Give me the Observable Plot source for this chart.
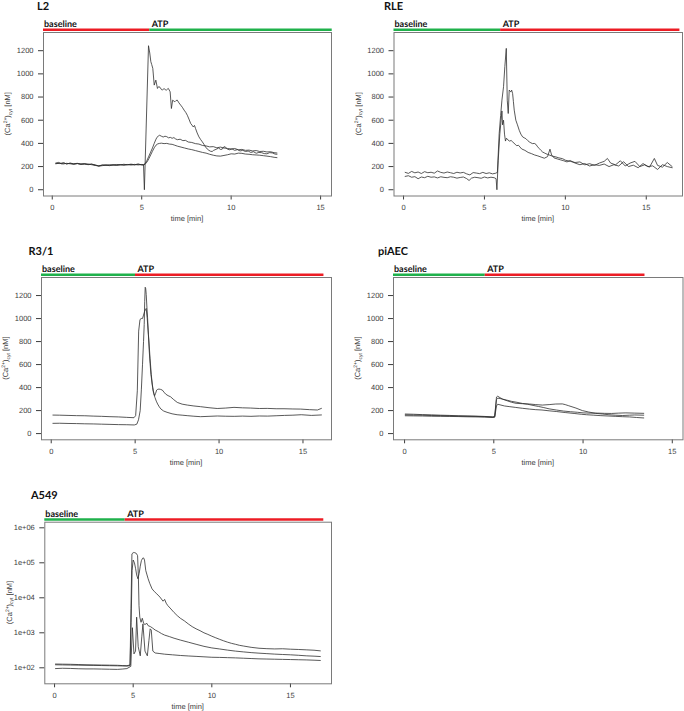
<!DOCTYPE html>
<html><head><meta charset="utf-8">
<script src="https://cdn.jsdelivr.net/npm/d3@7"></script>
<script src="https://cdn.jsdelivr.net/npm/@observablehq/plot@0.6"></script>
<style>
body{margin:0;background:#fff;}
#fig{position:relative;width:684px;height:711px;overflow:hidden;background:#fff;}
#fig svg text{text-rendering:geometricPrecision;}
</style></head><body><div id="fig"></div>
<script>
// ---------- tick values / labels ----------
const xTicks = [0, 5, 10, 15];
const linearYTicks = [0, 200, 400, 600, 800, 1000, 1200];
const logYTicks = [1e2, 1e3, 1e4, 1e5, 1e6];
const logYTickLabels = ["1e+02", "1e+03", "1e+04", "1e+05", "1e+06"];
const phaseLabels = ["baseline", "ATP"];
const panelTitles = ["L2", "RLE", "R3/1", "piAEC", "A549"];
const xAxisTitle = "time [min]";

// phase boundaries [switch time, end of ATP bar] in minutes
const l2Phase = [5.45, 15.65];
const rlePhase = [6.0, 17.08];
const r31Phase = [5.02, 16.25];
const piaecPhase = [4.52, 13.47];
const a549Phase = [4.49, 17.12];

// ---------- traces: [time (min), Ca2+ (nM)] ----------
const l2TraceA = [[0.2,228],[0.35,236],[0.5,224],[0.65,232],[0.8,222],[1.0,230],[1.2,224],[1.4,228],[1.6,220],[1.8,226],[2.0,218],[2.2,222],[2.4,212],[2.6,206],[2.8,214],[3.0,210],[3.2,216],[3.4,212],[3.6,218],[3.8,214],[4.0,220],[4.2,215],[4.4,221],[4.6,216],[4.8,222],[5.0,214],[5.1,218],[5.15,0],[5.38,1243],[5.45,1180],[5.51,1105],[5.56,1080],[5.62,1047],[5.70,903],[5.79,946],[5.88,874],[5.95,890],[6.03,883],[6.1,865],[6.16,860],[6.25,874],[6.32,862],[6.38,860],[6.45,870],[6.49,874],[6.59,845],[6.66,701],[6.73,773],[6.8,765],[6.85,759],[6.92,770],[6.99,773],[7.08,750],[7.18,730],[7.27,712],[7.37,687],[7.46,668],[7.55,643],[7.64,610],[7.74,571],[7.81,558],[7.88,542],[7.95,555],[8.01,528],[8.1,490],[8.20,456],[8.3,432],[8.39,413],[8.48,392],[8.57,369],[8.66,352],[8.76,340],[8.85,332],[8.94,330],[9.02,340],[9.1,345],[9.2,352],[9.3,360],[9.4,348],[9.5,350],[9.6,372],[9.7,365],[9.8,350],[9.9,345],[10.05,352],[10.2,340],[10.35,346],[10.5,335],[10.65,340],[10.8,330],[10.95,334],[11.1,322],[11.25,328],[11.4,315],[11.55,322],[11.7,320],[11.85,312],[12.0,310],[12.15,320],[12.3,318],[12.45,308],[12.56,306]];
const l2TraceB = [[0.2,224],[0.4,230],[0.6,222],[0.8,228],[1.0,224],[1.2,220],[1.4,226],[1.6,218],[1.8,224],[2.0,216],[2.2,220],[2.4,214],[2.6,205],[2.8,212],[3.0,215],[3.2,210],[3.4,216],[3.6,212],[3.8,217],[4.0,212],[4.2,218],[4.4,213],[4.6,219],[4.8,214],[5.0,218],[5.1,215],[5.2,228],[5.3,255],[5.4,290],[5.5,325],[5.6,360],[5.7,400],[5.78,430],[5.85,452],[5.92,462],[6.0,470],[6.1,462],[6.2,455],[6.3,462],[6.4,458],[6.5,448],[6.6,452],[6.7,444],[6.8,450],[6.9,438],[7.0,432],[7.15,436],[7.3,424],[7.45,426],[7.6,412],[7.8,408],[8.0,398],[8.2,394],[8.4,382],[8.6,378],[8.8,370],[9.0,372],[9.2,362],[9.4,368],[9.6,360],[9.8,356],[10.0,352],[10.2,356],[10.4,345],[10.6,348],[10.8,340],[11.0,342],[11.2,335],[11.4,338],[11.6,330],[11.8,332],[12.0,326],[12.2,328],[12.4,320],[12.56,317]];
const l2TraceC = [[0.2,230],[0.4,226],[0.6,232],[0.8,224],[1.0,228],[1.2,222],[1.4,226],[1.6,224],[1.8,220],[2.0,222],[2.2,216],[2.4,210],[2.6,204],[2.8,208],[3.0,212],[3.2,208],[3.4,214],[3.6,210],[3.8,216],[4.0,214],[4.2,216],[4.4,218],[4.6,214],[4.8,220],[5.0,216],[5.1,212],[5.2,222],[5.3,240],[5.4,268],[5.5,300],[5.6,332],[5.7,362],[5.8,385],[5.9,396],[6.0,400],[6.1,402],[6.25,398],[6.4,400],[6.55,394],[6.7,392],[6.85,384],[7.0,376],[7.2,368],[7.4,360],[7.6,352],[7.8,346],[8.0,338],[8.2,330],[8.4,322],[8.6,316],[8.8,306],[9.0,298],[9.2,292],[9.4,290],[9.6,296],[9.8,302],[10.0,310],[10.2,308],[10.4,316],[10.6,314],[10.8,308],[11.0,306],[11.2,302],[11.4,300],[11.6,298],[11.8,294],[12.0,290],[12.2,286],[12.4,280],[12.56,277]];

const rleTraceA = [[0.1,150],[0.3,141],[0.5,158],[0.7,146],[0.9,153],[1.1,140],[1.3,156],[1.5,147],[1.7,151],[1.9,143],[2.1,162],[2.3,150],[2.5,144],[2.7,153],[2.9,147],[3.1,140],[3.3,151],[3.5,145],[3.7,150],[3.9,137],[4.1,128],[4.3,148],[4.5,144],[4.7,139],[4.9,150],[5.1,140],[5.3,146],[5.5,137],[5.7,143],[5.8,150],[5.91,485],[6.0,640],[6.08,773],[6.18,889],[6.26,1062],[6.35,1220],[6.41,773],[6.47,658],[6.53,860],[6.58,850],[6.63,845],[6.68,860],[6.74,831],[6.79,760],[6.84,687],[6.94,600],[7.04,560],[7.15,513],[7.25,480],[7.36,456],[7.46,448],[7.56,441],[7.67,425],[7.77,413],[7.87,405],[7.97,398],[8.08,400],[8.18,392],[8.29,370],[8.39,355],[8.49,340],[8.59,326],[8.7,318],[8.8,311],[8.9,305],[9.0,300],[9.2,290],[9.42,283],[9.6,275],[9.83,268],[10.0,255],[10.3,245],[10.6,235],[10.9,240],[11.2,215],[11.5,225],[11.8,210],[12.1,230],[12.4,245],[12.6,270],[12.8,230],[13.1,215],[13.4,250],[13.7,205],[14.0,230],[14.3,245],[14.6,200],[14.9,215],[15.2,195],[15.5,270],[15.7,210],[16.0,195],[16.3,235],[16.6,200]];
const rleTraceB = [[0.1,115],[0.3,121],[0.5,108],[0.7,113],[0.9,95],[1.1,110],[1.3,104],[1.5,116],[1.7,108],[1.9,111],[2.1,102],[2.3,112],[2.5,107],[2.7,104],[2.9,112],[3.1,108],[3.3,100],[3.5,106],[3.7,110],[3.9,96],[4.05,80],[4.2,100],[4.4,108],[4.6,104],[4.8,99],[5.0,110],[5.2,102],[5.4,108],[5.6,104],[5.72,95],[5.77,0],[5.85,250],[5.95,480],[6.03,600],[6.08,680],[6.12,560],[6.18,600],[6.24,480],[6.3,420],[6.36,445],[6.45,430],[6.55,420],[6.65,425],[6.75,412],[6.9,392],[7.0,380],[7.1,384],[7.3,352],[7.5,340],[7.7,322],[7.9,312],[8.1,300],[8.3,292],[8.5,282],[8.7,272],[8.9,286],[9.05,350],[9.15,300],[9.3,275],[9.5,266],[9.7,258],[9.9,250],[10.1,240],[10.3,252],[10.6,230],[10.9,216],[11.2,226],[11.5,205],[11.8,216],[12.1,210],[12.4,222],[12.7,200],[13.0,216],[13.3,205],[13.6,242],[13.9,200],[14.2,212],[14.5,190],[14.8,226],[15.1,200],[15.4,206],[15.7,175],[16.0,216],[16.3,200],[16.6,190]];

const r31TraceA = [[0.1,161],[0.5,160],[1.0,158],[1.5,156],[2.0,155],[2.5,152],[3.0,150],[3.5,147],[4.0,145],[4.5,141],[4.93,138],[5.03,156],[5.13,372],[5.21,891],[5.29,992],[5.36,1000],[5.44,1001],[5.5,1030],[5.56,1060],[5.62,1080],[5.66,1088],[5.72,1000],[5.77,900],[5.82,805],[5.89,650],[5.96,516],[6.02,430],[6.08,372],[6.16,329],[6.22,350],[6.28,378],[6.35,385],[6.42,387],[6.52,384],[6.62,378],[6.72,360],[6.82,343],[6.96,330],[7.11,320],[7.3,295],[7.51,271],[7.8,256],[8.11,248],[8.5,240],[8.9,234],[9.4,225],[9.89,218],[10.4,222],[10.89,228],[11.4,224],[11.88,222],[12.4,218],[12.87,219],[13.4,216],[13.87,216],[14.4,214],[14.86,213],[15.4,208],[15.86,205],[16.1,219]];
const r31TraceB = [[0.1,89],[0.5,90],[1.0,88],[1.5,87],[2.0,85],[2.5,84],[3.0,82],[3.5,80],[4.0,78],[4.5,77],[4.95,75],[5.1,82],[5.2,120],[5.3,199],[5.37,380],[5.44,603],[5.5,800],[5.54,949],[5.57,1150],[5.6,1272],[5.63,1260],[5.66,1209],[5.7,1100],[5.74,1007],[5.79,860],[5.84,718],[5.89,610],[5.94,516],[6.04,401],[6.1,350],[6.18,314],[6.26,282],[6.34,257],[6.44,232],[6.54,213],[6.7,196],[6.9,185],[7.2,172],[7.5,164],[7.8,160],[8.1,156],[8.5,151],[8.9,147],[9.4,150],[9.9,153],[10.4,151],[10.9,150],[11.4,152],[11.9,150],[12.4,153],[12.9,152],[13.4,155],[13.9,158],[14.4,160],[14.9,164],[15.5,158],[16.1,162]];

const piaecTraceA = [[0.04,170],[0.5,168],[1.0,165],[1.5,163],[2.0,160],[2.5,158],[3.0,155],[3.5,154],[4.0,152],[4.5,149],[4.95,145],[5.05,150],[5.15,318],[5.22,325],[5.35,312],[5.5,300],[5.75,285],[6.0,272],[6.25,263],[6.6,260],[7.0,257],[7.35,252],[7.72,248],[8.1,252],[8.47,257],[8.84,258],[9.0,252],[9.2,242],[9.6,222],[9.96,200],[10.3,188],[10.7,176],[11.1,170],[11.45,164],[11.8,160],[12.2,157],[12.6,160],[12.9,162],[13.4,160]];
const piaecTraceB = [[0.04,163],[0.5,161],[1.0,160],[1.5,157],[2.0,156],[2.5,154],[3.0,152],[3.5,150],[4.0,149],[4.5,147],[4.95,143],[5.05,146],[5.15,295],[5.22,308],[5.35,305],[5.5,298],[5.75,290],[6.0,280],[6.3,272],[6.6,262],[6.9,255],[7.2,245],[7.5,236],[7.8,226],[8.1,215],[8.5,205],[8.9,196],[9.3,190],[9.7,185],[10.0,180],[10.4,178],[10.8,178],[11.2,176],[11.6,175],[12.0,178],[12.4,180],[12.9,178],[13.4,176]];
const piaecTraceC = [[0.04,155],[0.5,154],[1.0,153],[1.5,151],[2.0,150],[2.5,149],[3.0,148],[3.5,146],[4.0,145],[4.5,143],[4.95,140],[5.05,142],[5.15,240],[5.22,255],[5.4,248],[5.6,240],[5.9,234],[6.2,228],[6.6,220],[7.0,213],[7.35,208],[7.7,205],[8.1,198],[8.5,192],[9.0,183],[9.5,175],[9.9,168],[10.2,164],[10.6,160],[11.0,156],[11.4,153],[11.8,150],[12.2,147],[12.6,145],[13.0,140],[13.4,136]];

const a549TraceA = [[0.06,128],[0.5,127],[1.0,126],[1.5,124],[2.0,122],[2.5,121],[3.0,120],[3.5,119],[4.0,118],[4.3,116],[4.6,115],[4.8,120],[4.87,2000],[4.93,60000],[5.0,120000],[5.08,100000],[5.15,70000],[5.22,45000],[5.3,35000],[5.38,50000],[5.45,80000],[5.52,115000],[5.6,135000],[5.66,138000],[5.72,120000],[5.8,60000],[5.88,45000],[5.95,35000],[6.05,26000],[6.2,18000],[6.35,15000],[6.5,13000],[6.7,10500],[6.9,8000],[7.0,9000],[7.1,7000],[7.2,6000],[7.4,4800],[7.6,3800],[7.8,3100],[8.0,2600],[8.25,2200],[8.5,1800],[8.75,1500],[9.0,1300],[9.25,1150],[9.5,1000],[9.75,900],[10.0,800],[10.25,720],[10.5,650],[10.75,590],[11.0,540],[11.25,500],[11.5,470],[11.75,440],[12.0,420],[12.5,385],[13.0,362],[13.5,352],[14.0,346],[14.5,350],[15.0,340],[15.5,334],[16.0,326],[16.5,318],[16.9,305]];
const a549TraceB = [[0.06,122],[0.5,121],[1.0,120],[1.5,119],[2.0,118],[2.5,117],[3.0,116],[3.5,115],[4.0,114],[4.3,113],[4.6,112],[4.8,115],[4.86,5000],[4.92,180000],[5.0,195000],[5.1,195000],[5.2,185000],[5.28,160000],[5.33,40000],[5.37,6000],[5.42,2800],[5.5,2000],[5.58,2600],[5.66,1900],[5.75,1700],[5.85,1900],[5.95,1600],[6.1,1500],[6.25,1350],[6.4,1200],[6.6,1080],[6.8,950],[7.0,860],[7.3,780],[7.6,700],[8.0,620],[8.5,540],[9.0,470],[9.5,410],[10.0,370],[10.5,345],[11.0,320],[11.5,300],[12.0,285],[12.5,272],[13.0,262],[13.5,254],[14.0,246],[14.5,240],[15.0,235],[15.5,228],[16.0,220],[16.5,215],[16.9,210]];
const a549TraceC = [[0.06,95],[0.5,97],[1.0,96],[1.5,94],[2.0,93],[2.5,93],[3.0,92],[3.5,91],[4.0,90],[4.3,92],[4.6,95],[4.85,110],[4.95,1400],[5.05,250],[5.15,300],[5.22,2800],[5.32,400],[5.45,220],[5.55,800],[5.62,1800],[5.75,300],[5.9,220],[6.0,600],[6.08,1300],[6.15,1200],[6.25,300],[6.4,265],[6.7,255],[7.0,245],[7.5,235],[8.0,225],[8.5,218],[9.0,212],[9.5,206],[10.0,200],[10.5,198],[11.0,195],[11.5,192],[12.0,188],[12.5,184],[13.0,180],[13.5,178],[14.0,176],[14.5,174],[15.0,172],[15.5,170],[16.0,168],[16.5,165],[16.9,162]];

// ---------- layout / style options ----------
const RED = "#ec1c24", GREEN = "#1fb14b";
const TEXT = "#3c3c3c";
const linearYDomain = [-54, 1357];
const logYDomain = [Math.pow(10, 1.543), Math.pow(10, 6.16)];

const panels = [
  {title: panelTitles[0], traces: [l2TraceA, l2TraceB, l2TraceC], phase: l2Phase, colors: [RED, GREEN],
   left: 0, top: 0, w: 342, h: 225, mL: 43, mR: 11, mT: 32, mB: 29.5, xDomain: [-0.49, 15.61], log: false},
  {title: panelTitles[1], traces: [rleTraceA, rleTraceB], phase: rlePhase, colors: [GREEN, RED],
   left: 342, top: 0, w: 342, h: 225, mL: 51.5, mR: 2, mT: 32, mB: 29.5, xDomain: [-0.59, 17.24], log: false},
  {title: panelTitles[2], traces: [r31TraceA, r31TraceB], phase: r31Phase, colors: [GREEN, RED],
   left: 0, top: 245, w: 342, h: 225, mL: 41, mR: 11, mT: 32, mB: 30.7, xDomain: [-0.58, 16.70], log: false},
  {title: panelTitles[3], traces: [piaecTraceA, piaecTraceB, piaecTraceC], phase: piaecPhase, colors: [GREEN, RED],
   left: 342, top: 245, w: 342, h: 225, mL: 51, mR: 1.5, mT: 32, mB: 30.7, xDomain: [-0.62, 15.60], log: false},
  {title: panelTitles[4], traces: [a549TraceA, a549TraceB, a549TraceC], phase: a549Phase, colors: [GREEN, RED],
   left: 0, top: 488, w: 342, h: 223, mL: 44.3, mR: 11, mT: 33.7, mB: 27.7, xDomain: [-0.62, 17.61], log: true}
];

const fig = document.getElementById("fig");

for (const p of panels) {
  const rows = p.traces.flatMap((tr, i) => tr.map(([t, v]) => ({t, v, trace: i})));
  const yDomain = p.log ? logYDomain : linearYDomain;
  const yTop = yDomain[1];
  const xMin = p.xDomain[0];
  const [sw, end] = p.phase;
  const bar1 = [{a: xMin, b: sw, y: yTop}];
  const bar2 = [{a: sw, b: end, y: yTop}];
  const lab1 = [{x: xMin, y: yTop, text: phaseLabels[0]}];
  const lab2 = [{x: sw, y: yTop, text: phaseLabels[1]}];
  const yOpts = p.log
    ? {type: "log", domain: yDomain, ticks: logYTicks, tickFormat: d => logYTickLabels[logYTicks.indexOf(d)], tickSize: 5, tickPadding: 5, label: null}
    : {type: "linear", domain: yDomain, ticks: linearYTicks, tickFormat: d => `${d}`, tickSize: 5, tickPadding: 5, label: null};
  const labelFont = "Lato, 'Open Sans', sans-serif";
  const chart = Plot.plot({
    width: p.w, height: p.h,
    marginLeft: p.mL, marginRight: p.mR, marginTop: p.mT, marginBottom: p.mB,
    style: {fontFamily: "'Liberation Sans', Arial, sans-serif", fontSize: "7.5px", color: TEXT, background: "transparent", overflow: "visible"},
    x: {domain: p.xDomain, ticks: xTicks, tickFormat: d => `${d}`, tickSize: 4, tickPadding: 5, label: null},
    y: yOpts,
    marks: [
      Plot.frame({stroke: "#7a7a7a", strokeWidth: 1}),
      Plot.line(rows, {x: "t", y: "v", z: "trace", stroke: "#2e2e2e", strokeWidth: 0.8}),
      Plot.ruleY(bar1, {x1: "a", x2: "b", y: "y", stroke: p.colors[0], strokeWidth: 2.5, dy: -2.8}),
      Plot.ruleY(bar2, {x1: "a", x2: "b", y: "y", stroke: p.colors[1], strokeWidth: 2.5, dy: -2.8}),
      Plot.text(lab1, {x: "x", y: "y", text: "text", textAnchor: "start", dx: 0.5, dy: -8, fontWeight: "bold", fontSize: 9, fontFamily: labelFont, fill: "#111"}),
      Plot.text(lab2, {x: "x", y: "y", text: "text", textAnchor: "start", dx: 2, dy: -8, fontWeight: "bold", fontSize: 9, fontFamily: labelFont, fill: "#111"})
    ]
  });
  chart.style.position = "absolute";
  chart.style.left = p.left + "px";
  chart.style.top = p.top + "px";
  chart.style.maxWidth = "none";
  fig.appendChild(chart);

  const svg = d3.select(chart);
  // panel title
  svg.append("text")
    .attr("x", p.mL).attr("y", p.mT - 22.5)
    .attr("font-family", labelFont).attr("font-weight", "bold").attr("font-size", "11px")
    .attr("fill", "#111").text(p.title);
  // x axis title
  svg.append("text")
    .attr("x", (p.mL + p.w - p.mR) / 2).attr("y", p.h - p.mB + 25.5)
    .attr("text-anchor", "middle")
    .style("fill", TEXT).text(xAxisTitle);
  // y axis title
  const yl = svg.append("text")
    .attr("transform", `translate(${p.mL - 35},${(p.mT + p.h - p.mB) / 2}) rotate(-90)`)
    .attr("text-anchor", "middle").style("fill", TEXT).attr("dy", "0.32em");
  yl.append("tspan").text("(Ca");
  yl.append("tspan").attr("font-size", "5px").attr("dy", "-3").text("2+");
  yl.append("tspan").attr("dy", "3").text(")");
  yl.append("tspan").attr("font-size", "5px").attr("dy", "1.5").text("cyt");
  yl.append("tspan").attr("dy", "-1.5").text(" [nM]");
}
</script></body></html>
